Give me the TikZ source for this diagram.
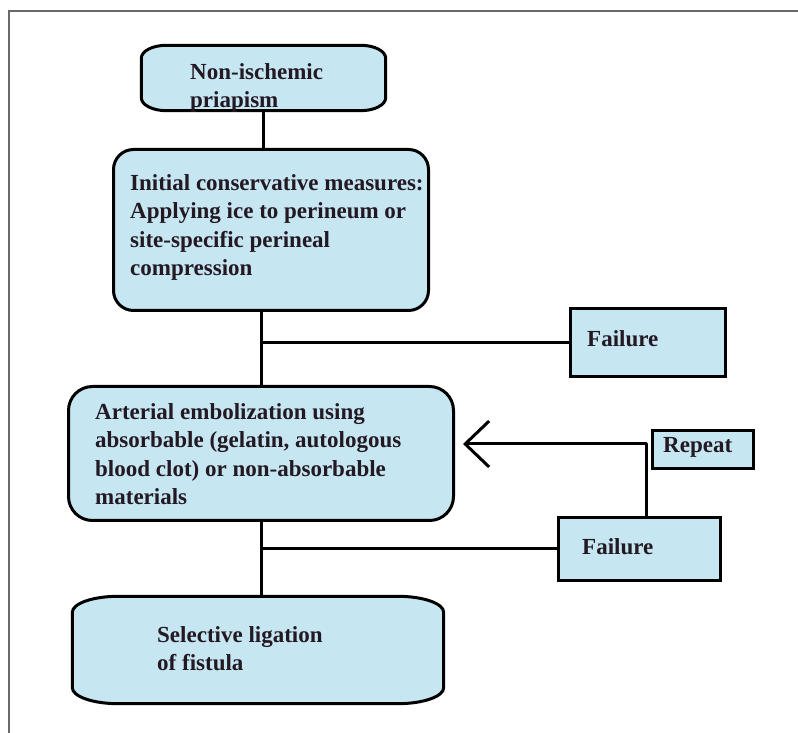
\documentclass[tikz,border=0pt]{standalone}
\usepackage{fontspec}
\setmainfont{Liberation Serif}
\usetikzlibrary{arrows.meta}
\definecolor{boxfill}{RGB}{198,230,242}
\definecolor{inkcol}{RGB}{35,25,35}
\definecolor{framecol}{RGB}{105,105,105}

\begin{document}
\begin{tikzpicture}[x=1pt,y=1pt,
	box/.style={draw=black,line width=3pt,fill=boxfill,inner sep=0pt},
	roundbox/.style={box,rounded corners=#1},
	capbox/.style={inner sep=0pt},
	txt/.style={anchor=north west,align=left,inner sep=0pt,text=inkcol,
		font=\fontsize{23}{28.5}\selectfont\bfseries},
	conn/.style={line width=3pt,line join=round}]
	\useasboundingbox (0,0) rectangle (798,733);
	
	\draw[framecol,line width=2pt] (9,0) -- (9,722) -- (798,722);
	
	% boxes
	\node[capbox,minimum width=244pt,minimum height=65pt] (top) at (263.5,655) {};
	\node[roundbox=20pt,minimum width=315pt,minimum height=161pt] (box2) at (271,503) {};
	\node[box,minimum width=155pt,minimum height=68pt] (fail1) at (648,390.5) {};
	\node[roundbox=24pt,minimum width=385pt,minimum height=134pt] (box3) at (261,279.5) {};
	\node[box,minimum width=101pt,minimum height=38pt] (rep) at (703,283.5) {};
	\node[box,minimum width=162pt,minimum height=63pt] (fail2) at (639.5,184) {};
	\node[capbox,minimum width=371pt,minimum height=107pt] (box4) at (258,83) {};
	
	\draw[box] ([xshift=25pt]top.north west) -- ([xshift=-25pt]top.north east)
		arc[start angle=90,end angle=0,x radius=25pt,y radius=13pt]
		-- ([yshift=13pt]top.south east)
		arc[start angle=0,end angle=-90,x radius=25pt,y radius=13pt]
		-- ([xshift=25pt]top.south west)
		arc[start angle=270,end angle=180,x radius=25pt,y radius=13pt]
		-- ([yshift=-13pt]top.north west)
		arc[start angle=180,end angle=90,x radius=25pt,y radius=13pt] -- cycle;
	\draw[box] ([xshift=46pt]box4.north west) -- ([xshift=-46pt]box4.north east)
		arc[start angle=90,end angle=0,x radius=46pt,y radius=16pt]
		-- ([yshift=16pt]box4.south east)
		arc[start angle=0,end angle=-90,x radius=46pt,y radius=16pt]
		-- ([xshift=46pt]box4.south west)
		arc[start angle=270,end angle=180,x radius=46pt,y radius=16pt]
		-- ([yshift=-16pt]box4.north west)
		arc[start angle=180,end angle=90,x radius=46pt,y radius=16pt] -- cycle;
	
	% texts
	\node[txt] (toptext) at (190,670) {Non-ischemic\\priapism};
	\node[txt] (box2text) at (130,559) {Initial conservative measures:\\Applying ice to perineum or\\site-specific perineal\\compression};
	\node[txt] (fail1text) at (587,403) {Failure};
	\node[txt] (box3text) at (95,330) {Arterial embolization using\\absorbable (gelatin, autologous\\blood clot) or non-absorbable\\materials};
	\node[txt] (reptext) at (663,296) {Repeat};
	\node[txt] (fail2text) at (582,195) {Failure};
	\node[txt] (box4text) at (157,107) {Selective ligation\\of fistula};
	
	% connectors
	\draw[conn] (top.south) -- (top.south |- box2.north);
	\draw[conn] (box3.north |- box2.south) -- (box3.north);
	\draw[conn] (box3.north |- fail1.west) -- (fail1.west);
	\draw[conn] (box3.south) -- (box3.south |- box4.north);
	\draw[conn] (box3.south |- fail2.west) -- (fail2.west);
	\draw[conn,-{Straight Barb[length=24pt,width=46pt]}] ([xshift=6.5pt]fail2.north) |- ([xshift=8pt,yshift=9.5pt]box3.east);
\end{tikzpicture}
\end{document}
